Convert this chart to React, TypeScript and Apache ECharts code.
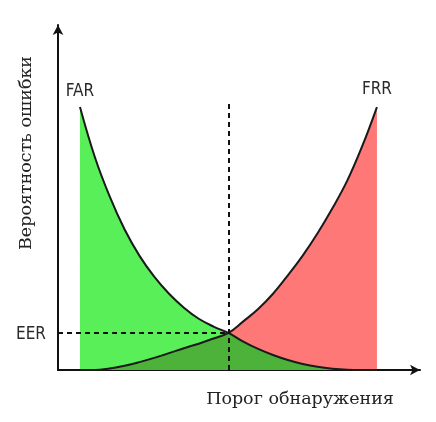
import React, { useEffect, useRef } from "react";
import * as echarts from "echarts";

const thresholds = [0, 0.05, 0.1, 0.15, 0.2, 0.25, 0.3, 0.35, 0.4, 0.45, 0.5, 0.55, 0.6, 0.65, 0.7, 0.75, 0.8, 0.85, 0.9, 0.95, 1.0];
const farValues = [1.0, 0.81, 0.66, 0.535, 0.435, 0.355, 0.29, 0.237, 0.195, 0.165, 0.141, 0.108, 0.08, 0.057, 0.038, 0.023, 0.012, 0.005, 0.001, 0, 0];
const frrValues = [0, 0, 0.006, 0.016, 0.03, 0.046, 0.064, 0.083, 0.1, 0.12, 0.141, 0.185, 0.232, 0.29, 0.36, 0.435, 0.52, 0.615, 0.72, 0.85, 1.0];
const eerThreshold = 0.5;
const eerValue = 0.141;
const dashTop = 1.027;
const xMin = -0.074;
const xMax = 1.145;
const yMax = 1.312;

const labelFont = "'DejaVu Sans Condensed', 'Liberation Sans Narrow', 'DejaVu Sans', sans-serif";
const titleFont = "'DejaVu Serif', 'Liberation Serif', serif";

export default function App() {
  const ref = useRef<HTMLDivElement>(null);
  useEffect(() => {
    if (!ref.current) return;
    const chart = echarts.init(ref.current, undefined, { renderer: "svg" });
    const far = thresholds.map((t, i) => [t, farValues[i]]);
    const frr = thresholds.map((t, i) => [t, frrValues[i]]);
    const overlap = thresholds.map((t, i) => [t, Math.min(farValues[i], frrValues[i])]);
    const areaBase = { type: "line", smooth: 0.4, symbol: "none", lineStyle: { width: 0 }, silent: true };
    const labelStyle = { color: "#2a2a2a", fontSize: 17, fontWeight: 500, fontFamily: labelFont };
    chart.setOption({
      animation: false,
      grid: { left: 58, right: 16, top: 25, bottom: 52 },
      xAxis: {
        type: "value",
        min: xMin,
        max: xMax,
        axisLine: { show: true, onZero: false, symbol: ["none", "arrow"], symbolSize: [8, 10], lineStyle: { color: "#111", width: 2 } },
        axisTick: { show: false },
        axisLabel: { show: false },
        splitLine: { show: false },
      },
      yAxis: {
        type: "value",
        min: 0,
        max: yMax,
        axisLine: { show: true, onZero: false, symbol: ["none", "arrow"], symbolSize: [8, 10], lineStyle: { color: "#111", width: 2 } },
        axisTick: { show: false },
        axisLabel: { show: false },
        splitLine: { show: false },
      },
      graphic: [
        {
          type: "text",
          x: 300,
          y: 398,
          style: { text: "Порог обнаружения", font: `17.5px ${titleFont}`, fill: "#222", textAlign: "center", textVerticalAlign: "middle" },
        },
        {
          type: "text",
          x: 25,
          y: 153,
          rotation: Math.PI / 2,
          style: { text: "Вероятность ошибки", font: `17.5px ${titleFont}`, fill: "#222", textAlign: "center", textVerticalAlign: "middle" },
        },
      ],
      series: [
        { ...areaBase, name: "FAR area", data: far, areaStyle: { color: "#58ef58", opacity: 1 }, z: 1 },
        { ...areaBase, name: "FRR area", data: frr, areaStyle: { color: "#ff7878", opacity: 1 }, z: 1 },
        { ...areaBase, name: "overlap", data: overlap, areaStyle: { color: "#4cb23a", opacity: 1 }, z: 2 },
        {
          type: "line",
          name: "FAR",
          smooth: 0.4,
          symbol: "none",
          data: far,
          lineStyle: { color: "#1a1a1a", width: 2 },
          z: 3,
          markPoint: {
            symbol: "circle",
            symbolSize: 1,
            itemStyle: { color: "transparent" },
            label: { show: true, position: "top", distance: 8, formatter: "FAR", ...labelStyle },
            data: [{ coord: [thresholds[0], farValues[0]] }],
          },
          markLine: {
            silent: true,
            symbol: ["none", "none"],
            lineStyle: { color: "#111", width: 2, type: [5, 4] },
            label: { show: false },
            data: [
              [{ coord: [eerThreshold, 0] }, { coord: [eerThreshold, dashTop] }],
              [
                { coord: [xMin, eerValue], label: { show: true, position: "start", distance: 12, formatter: "EER", ...labelStyle } },
                { coord: [eerThreshold, eerValue] },
              ],
            ],
          },
        },
        {
          type: "line",
          name: "FRR",
          smooth: 0.4,
          symbol: "none",
          data: frr,
          lineStyle: { color: "#1a1a1a", width: 2 },
          z: 3,
          markPoint: {
            symbol: "circle",
            symbolSize: 1,
            itemStyle: { color: "transparent" },
            label: { show: true, position: "top", distance: 10, formatter: "FRR", ...labelStyle },
            data: [{ coord: [thresholds[thresholds.length - 1], frrValues[frrValues.length - 1]] }],
          },
        },
      ],
    });
    return () => chart.dispose();
  }, []);
  return <div ref={ref} style={{ position: "fixed", left: 0, top: 0, width: 436, height: 422 }} />;
}
